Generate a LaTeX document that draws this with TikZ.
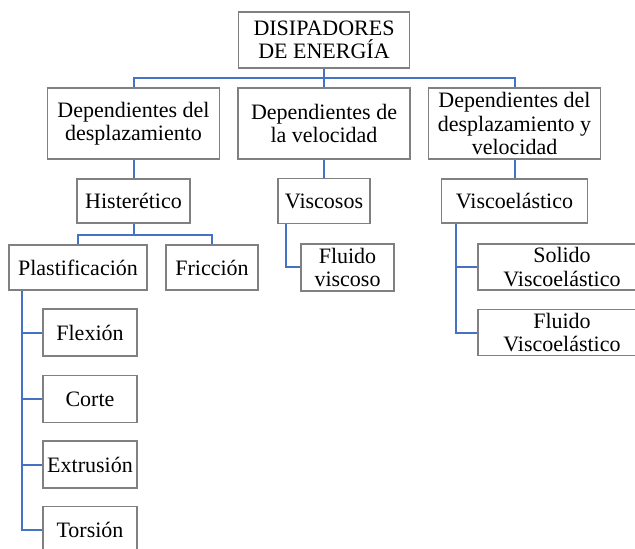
\documentclass[tikz,border=0pt]{standalone}
\usepackage{fontspec}
\setmainfont{Liberation Serif}
\definecolor{linkblue}{HTML}{4472C4}

\begin{document}
\begin{tikzpicture}[
  x=0.5pt, y=-0.5pt,
  box/.style={
    draw=black!50,
    line width=0.6pt,
    fill=white,
    align=center,
    inner sep=0pt,
    font=\fontsize{11}{11.6}\selectfont
  },
  link/.style={draw=linkblue, line width=1pt}
]
  \useasboundingbox (0,0) rectangle (635,549);
  \clip (0,0) rectangle (635,549);

  \node[box, minimum width=85.5pt, minimum height=28pt] (root) at (324,40)
    {DISIPADORES\\DE ENERGÍA};

  \node[box, minimum width=86pt, minimum height=35.5pt] (dd) at (133.5,123.5)
    {Dependientes del\\desplazamiento};
  \node[box, minimum width=86pt, minimum height=35.5pt] (dv) at (324,123.5)
    {Dependientes de\\la velocidad};
  \node[box, minimum width=86pt, minimum height=35.5pt] (ddv) at (514.5,123.5)
    {Dependientes del\\desplazamiento y\\velocidad};

  \node[box, minimum width=56.5pt, minimum height=22pt] (hist) at (133.5,201) {Histerético};
  \node[box, minimum width=46pt, minimum height=22.5pt] (visc) at (324,201) {Viscosos};
  \node[box, minimum width=73pt, minimum height=22pt] (viscoel) at (514.5,201) {Viscoelástico};

  \node[box, minimum width=69pt, minimum height=22.5pt] (plast) at (78,267.5) {Plastificación};
  \node[box, minimum width=46pt, minimum height=22.5pt] (fric) at (212,267.5) {Fricción};
  \node[box, minimum width=46.5pt, minimum height=23.5pt] (fluvisc) at (347.5,267.5)
    {Fluido\\viscoso};
  \node[box, minimum width=84pt, minimum height=23pt] (solido) at (562,267)
    {Solido\\Viscoelástico};
  \node[box, minimum width=84pt, minimum height=23pt] (fluvel) at (562,332.5)
    {Fluido\\Viscoelástico};

  \node[box, minimum width=47pt, minimum height=23.5pt] (flex) at (90,332.5) {Flexión};
  \node[box, minimum width=47pt, minimum height=23.5pt] (corte) at (90,399) {Corte};
  \node[box, minimum width=47pt, minimum height=23.5pt] (extr) at (90,464.5) {Extrusión};
  \node[box, minimum width=47pt, minimum height=23.5pt] (tors) at (90,530) {Torsión};

  \coordinate (topbus) at (324,78);
  \coordinate (histbus) at (133.5,235);

  \draw[link] (root.south) -- (dv.north);
  \draw[link] (dd.north) |- (topbus) -| (ddv.north);
  \draw[link] (dd.south) -- (hist.north);
  \draw[link] (dv.south) -- (visc.north);
  \draw[link] (ddv.south) -- (viscoel.north);

  \draw[link] (hist.south) -- (histbus);
  \draw[link] (plast.north) |- (histbus) -| (fric.north);

  \draw[link] ([xshift=4.5pt]visc.south west) |- (fluvisc.west);
  \draw[link] ([xshift=7.5pt]viscoel.south west) |- (fluvel.west);
  \draw[link] ([xshift=7.5pt]viscoel.south west) |- (solido.west);

  \draw[link] ([xshift=7pt]plast.south west) |- (tors.west);
  \foreach \leaf in {flex,corte,extr}
    \draw[link] ([xshift=7pt]plast.south west) |- (\leaf.west);
\end{tikzpicture}
\end{document}
